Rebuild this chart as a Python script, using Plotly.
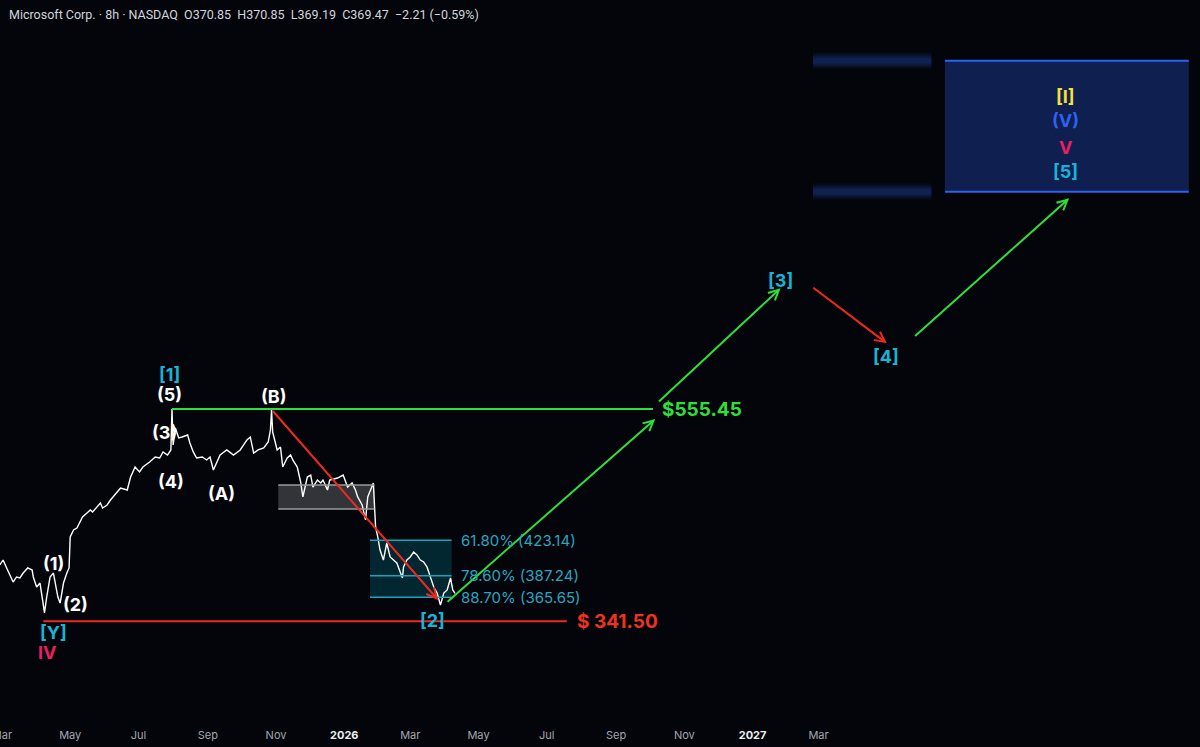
import plotly.graph_objects as go

# MSFT 8h price path
dates = [
    "2025-02-27", "2025-03-02", "2025-03-06", "2025-03-08", "2025-03-11", "2025-03-14",
    "2025-03-17", "2025-03-20", "2025-03-24", "2025-03-28", "2025-03-29", "2025-04-01",
    "2025-04-04", "2025-04-07", "2025-04-08", "2025-04-10", "2025-04-13", "2025-04-16",
    "2025-04-17", "2025-04-20", "2025-04-22", "2025-04-25", "2025-04-28", "2025-04-30",
    "2025-05-01", "2025-05-04", "2025-05-07", "2025-05-10", "2025-05-12", "2025-05-16",
    "2025-05-19", "2025-05-21", "2025-05-25", "2025-05-28", "2025-05-30", "2025-06-03",
    "2025-06-06", "2025-06-08", "2025-06-12", "2025-06-15", "2025-06-21", "2025-06-24",
    "2025-06-28", "2025-07-02", "2025-07-05", "2025-07-11", "2025-07-16", "2025-07-20",
    "2025-07-23", "2025-07-27", "2025-07-30", "2025-07-31", "2025-08-01", "2025-08-03",
    "2025-08-06", "2025-08-09", "2025-08-14", "2025-08-16", "2025-08-19", "2025-08-22",
    "2025-08-27", "2025-08-31", "2025-09-03", "2025-09-06", "2025-09-09", "2025-09-12",
    "2025-09-18", "2025-09-24", "2025-09-30", "2025-10-06", "2025-10-09", "2025-10-12",
    "2025-10-16", "2025-10-21", "2025-10-25", "2025-10-27", "2025-10-28", "2025-10-29",
    "2025-11-02", "2025-11-05", "2025-11-07", "2025-11-11", "2025-11-14", "2025-11-16",
    "2025-11-20", "2025-11-23", "2025-11-25", "2025-11-29", "2025-12-02", "2025-12-04",
    "2025-12-08", "2025-12-11", "2025-12-13", "2025-12-17", "2025-12-19", "2025-12-26",
    "2025-12-31", "2026-01-04", "2026-01-08", "2026-01-11", "2026-01-13", "2026-01-17",
    "2026-01-20", "2026-01-22", "2026-01-27", "2026-01-28", "2026-01-29", "2026-01-31",
    "2026-02-02", "2026-02-05", "2026-02-08", "2026-02-11", "2026-02-14", "2026-02-17",
    "2026-02-22", "2026-02-23", "2026-02-26", "2026-03-01", "2026-03-04", "2026-03-07",
    "2026-03-10", "2026-03-13", "2026-03-16", "2026-03-19", "2026-03-22", "2026-03-25",
    "2026-03-28", "2026-03-31", "2026-04-03", "2026-04-06", "2026-04-08", "2026-04-10",
]
closes = [
    398.2, 403.2, 393.1, 388.1, 381.0, 386.1,
    385.1, 390.1, 395.2, 393.1, 386.1, 376.0,
    380.0, 357.8, 349.8, 365.9, 386.1, 390.1,
    383.1, 365.9, 359.8, 380.0, 390.1, 395.2,
    426.4, 433.5, 435.5, 441.5, 446.6, 450.6,
    453.7, 451.6, 456.7, 460.7, 455.7, 458.7,
    463.7, 466.8, 471.8, 475.8, 473.8, 486.9,
    497.0, 492.0, 497.0, 502.1, 507.1, 506.1,
    512.2, 509.1, 514.2, 555.45, 519.2, 536.4,
    526.3, 527.3, 529.3, 521.2, 512.2, 506.1,
    507.1, 504.1, 507.1, 494.0, 501.1, 509.1,
    514.2, 509.1, 514.2, 524.3, 527.3, 511.1,
    514.2, 516.2, 522.2, 534.3, 554.5, 532.3,
    514.2, 517.2, 497.0, 506.1, 509.1, 504.1,
    497.0, 481.9, 466.8, 486.9, 488.9, 476.8,
    483.9, 480.9, 483.9, 473.8, 483.9, 485.9,
    488.9, 476.8, 480.9, 473.8, 466.8, 458.7,
    443.6, 466.8, 480.9, 463.7, 436.5, 426.4,
    413.3, 403.2, 420.4, 406.3, 403.2, 400.2,
    385.1, 396.2, 403.2, 406.3, 411.3, 408.3,
    403.2, 401.2, 396.2, 386.1, 376.0, 369.9,
    357.8, 369.9, 373.0, 385.1, 373.0, 369.47,
]

tick_vals = ["2025-03-01", "2025-05-01", "2025-07-01", "2025-09-01", "2025-11-01", "2026-01-01",
             "2026-03-01", "2026-05-01", "2026-07-01", "2026-09-01", "2026-11-01", "2027-01-01",
             "2027-03-01"]
tick_names = ["Mar", "May", "Jul", "Sep", "Nov", "2026", "Mar", "May", "Jul", "Sep", "Nov", "2027", "Mar"]

fib_levels = [423.14, 387.24, 365.65]
fib_names = ["61.80%", "78.60%", "88.70%"]
target_price = 555.45
stop_price = 341.50

# wave labels: text, date, price, colour
wave_labels = [
    ("[1]", "2025-07-29", 590.8, "#18b4d8"),
    ("(5)", "2025-07-29", 570.2, "#ffffff"),
    ("(3)", "2025-07-24", 532.3, "#ffffff"),
    ("(4)", "2025-07-30", 482.9, "#ffffff"),
    ("(A)", "2025-09-13", 470.8, "#ffffff"),
    ("(B)", "2025-10-30", 568.6, "#ffffff"),
    ("(1)", "2025-04-16", 400.2, "#ffffff"),
    ("(2)", "2025-05-06", 358.8, "#ffffff"),
    ("[Y]", "2025-04-16", 330.1, "#18b4d8"),
    ("IV", "2025-04-11", 309.9, "#e91e63"),
    ("[2]", "2026-03-21", 342.7, "#18b4d8"),
    ("[3]", "2027-01-26", 685.6, "#18b4d8"),
    ("[4]", "2027-04-30", 608.0, "#18b4d8"),
    ("[I]", "2027-10-08", 870.2, "#f5e03c"),
    ("(V)", "2027-10-08", 846.0, "#2f62f0"),
    ("V", "2027-10-08", 818.8, "#e91e63"),
    ("[5]", "2027-10-08", 794.6, "#18b4d8"),
]

# projected path arrows: tail date, tail price, tip date, tip price, colour
arrows = [
    ("2025-10-28", 555.0, "2026-03-26", 362.9, "#f0281e"),
    ("2026-04-02", 359.9, "2026-10-06", 545.4, "#2ee03a"),
    ("2026-10-08", 561.6, "2027-01-26", 677.3, "#2ee03a"),
    ("2027-02-23", 678.9, "2027-05-01", 621.8, "#f0281e"),
    ("2027-05-25", 627.8, "2027-10-11", 768.0, "#2ee03a"),
]

BG = "#03050a"
FONT = "Inter, Roboto, sans-serif"

fig = go.Figure()

fig.add_trace(go.Scatter(x=dates, y=closes, mode="lines",
                         line=dict(color="#ffffff", width=1.4),
                         hoverinfo="skip", showlegend=False))

shapes = []
# grey consolidation box
shapes.append(dict(type="rect", x0="2025-11-03", x1="2026-01-28", y0=454.7, y1=478.9,
                   fillcolor="rgba(120,120,125,0.42)", line=dict(width=0), layer="below"))
for yv in [454.7, 478.9]:
    shapes.append(dict(type="line", x0="2025-11-03", x1="2026-01-28", y0=yv, y1=yv,
                       line=dict(color="#9a9a9a", width=1.5)))
# fib retracement box
shapes.append(dict(type="rect", x0="2026-01-24", x1="2026-04-07", y0=fib_levels[2], y1=fib_levels[0],
                   fillcolor="rgba(0,150,175,0.24)", line=dict(width=0), layer="below"))
for lv in fib_levels:
    shapes.append(dict(type="line", x0="2026-01-24", x1="2026-04-07", y0=lv, y1=lv,
                       line=dict(color="#1aa3bb", width=1.5)))
# target zone
shapes.append(dict(type="rect", x0="2027-06-22", x1="2028-01-26", y0=774.7, y1=906.8,
                   fillcolor="#0e1f50", line=dict(width=0), layer="below"))
for yv in [774.7, 906.8]:
    shapes.append(dict(type="line", x0="2027-06-22", x1="2028-01-26", y0=yv, y1=yv,
                       line=dict(color="#2a62f0", width=2)))
# blurred price tags left of the target zone (soft, layered)
for yv in [906.8, 774.7]:
    for pad, alpha in [(9, 0.07), (7, 0.10), (5, 0.14), (3, 0.16)]:
        shapes.append(dict(type="rect", x0="2027-02-24", x1="2027-06-10",
                           y0=yv - pad, y1=yv + pad,
                           fillcolor="rgba(40,75,190,%.2f)" % alpha, line=dict(width=0),
                           layer="below"))
# key levels
shapes.append(dict(type="line", x0="2025-07-31", x1="2026-10-04", y0=target_price, y1=target_price,
                   line=dict(color="#2ee03a", width=2)))
shapes.append(dict(type="line", x0="2025-04-07", x1="2026-07-19", y0=stop_price, y1=stop_price,
                   line=dict(color="#f0281e", width=2)))

annotations = []
for tx, ty, hx, hy, col in arrows:
    annotations.append(dict(x=hx, y=hy, ax=tx, ay=ty, xref="x", yref="y", axref="x", ayref="y",
                            text="", showarrow=True, arrowhead=5, arrowsize=1, arrowwidth=2,
                            arrowcolor=col))
for txt, d, p, col in wave_labels:
    annotations.append(dict(x=d, y=p, text="<b>%s</b>" % txt, showarrow=False, borderpad=0,
                            font=dict(family=FONT, size=18, color=col)))
for lv, nm in zip(fib_levels, fib_names):
    annotations.append(dict(x="2026-04-14", y=lv, text="%s (%.2f)" % (nm, lv), showarrow=False,
                            xanchor="left", font=dict(family=FONT, size=15, color="#2aa6c0")))
annotations.append(dict(x="2026-10-10", y=target_price, text="<b>$%.2f</b>" % target_price,
                        showarrow=False, xanchor="left",
                        font=dict(family=FONT, size=19, color="#2ee03a")))
annotations.append(dict(x="2026-07-26", y=stop_price, text="<b>$ %.2f</b>" % stop_price,
                        showarrow=False, xanchor="left",
                        font=dict(family=FONT, size=19, color="#f0321e")))
annotations.append(dict(x=0, y=1, xref="paper", yref="paper", xshift=7, yshift=-14,
                        xanchor="left", yanchor="middle", showarrow=False,
                        text="Microsoft Corp. · 8h · NASDAQ  O370.85  H370.85  L369.19  C369.47  \u22122.21 (\u22120.59%)",
                        font=dict(family="Roboto, sans-serif", size=12.5, color="#d1d4dc")))

tick_text = ['<span style="color:#eceef2"><b>%s</b></span>' % t if t.isdigit() else t
             for t in tick_names]

fig.update_layout(
    width=1200, height=747,
    margin=dict(l=0, r=0, t=0, b=20, autoexpand=False),
    paper_bgcolor=BG, plot_bgcolor=BG,
    shapes=shapes, annotations=annotations,
    showlegend=False,
    xaxis=dict(type="date", range=["2025-02-27 06:00", "2028-02-05"],
               tickvals=tick_vals, ticktext=tick_text, ticklabeloverflow="allow",
               automargin=False,
               showgrid=False, zeroline=False, showline=False, ticks="",
               tickfont=dict(family=FONT, size=11, color="#a3a6af")),
    yaxis=dict(range=[234.8, 968.0], visible=False, showgrid=False, zeroline=False),
)

fig.write_html("out.html", config={"displayModeBar": False},
               post_script="document.body.style.margin='0';document.body.style.background='%s';" % BG)
